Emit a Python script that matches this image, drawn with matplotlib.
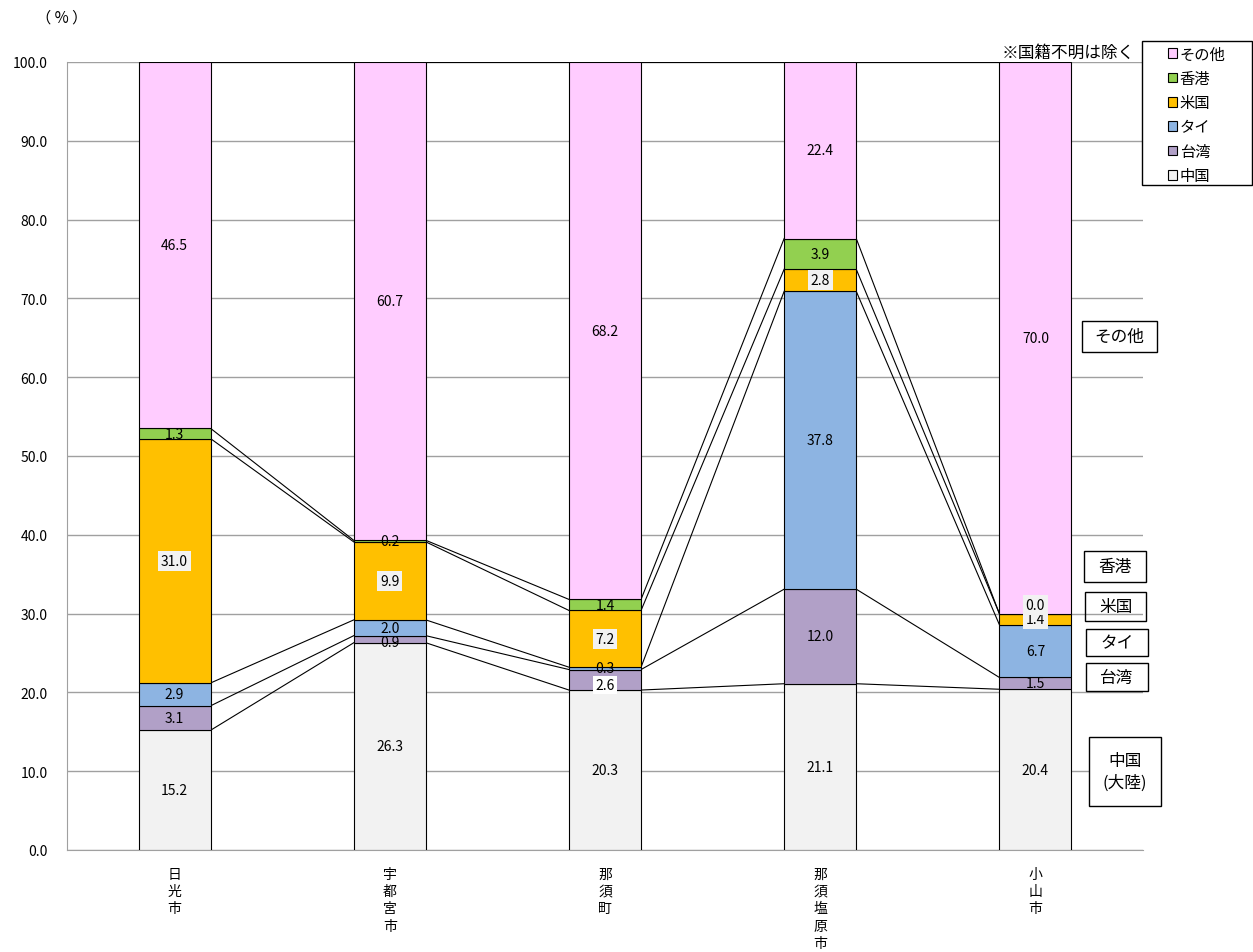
import numpy as np
import matplotlib.pyplot as plt
from matplotlib.patches import Patch, Rectangle

plt.rcParams['font.family'] = ['Noto Sans CJK JP', 'DejaVu Sans']

# data (%)
cities = ["日光市", "宇都宮市", "那須町", "那須塩原市", "小山市"]
series = ["中国", "台湾", "タイ", "米国", "香港", "その他"]
china = [15.2, 26.3, 20.3, 21.1, 20.4]
taiwan = [3.1, 0.9, 2.6, 12.0, 1.5]
thai = [2.9, 2.0, 0.3, 37.8, 6.7]
usa = [31.0, 9.9, 7.2, 2.8, 1.4]
hongkong = [1.3, 0.2, 1.4, 3.9, 0.0]
other = [46.5, 60.7, 68.2, 22.4, 70.0]
colors = ["#F2F2F2", "#B1A0C7", "#8DB4E2", "#FFC000", "#92D050", "#FFCCFF"]

values = np.array([china, taiwan, thai, usa, hongkong, other])

W, H = 1253, 953
fig = plt.figure(figsize=(W / 100, H / 100), dpi=100)
ax = fig.add_axes([67 / W, 1 - 851 / H, (1143 - 67) / W, (851 - 63) / H])

x = np.arange(len(cities))
bw = 0.335
bottoms = np.zeros(len(cities))
for k in range(len(series)):
    ax.bar(x, values[k], bw, bottom=bottoms, color=colors[k],
           edgecolor="black", linewidth=0.8, zorder=3)
    bottoms = bottoms + values[k]

# series lines between neighbouring bars
cum = np.cumsum(values, axis=0)
for k in range(len(series)):
    for i in range(len(cities) - 1):
        ax.plot([i + bw / 2, i + 1 - bw / 2], [cum[k, i], cum[k, i + 1]],
                color="black", lw=0.8, zorder=2)

# data labels
boxed = {(3, 0), (3, 1), (3, 2), (3, 3), (3, 4), (4, 4)}
white_boxed = {(1, 2)}
shift = {(1, 2): -0.7, (4, 4): 1.1, (1, 1): -0.3}
starts = cum - values
for k in range(len(series)):
    for i in range(len(cities)):
        yc = starts[k, i] + values[k, i] / 2 + shift.get((k, i), 0)
        bbox = None
        if (k, i) in boxed:
            bbox = dict(boxstyle="square,pad=0.2", fc="#F2F2F2", ec="none")
        if (k, i) in white_boxed:
            bbox = dict(boxstyle="square,pad=0.15", fc="white", ec="none")
        ax.text(i, yc, f"{values[k, i]:.1f}", ha="center", va="center",
                fontsize=10, bbox=bbox, zorder=6)

ax.set_xlim(-0.5, len(cities) - 0.5)
ax.set_ylim(0, 100)
ax.set_yticks(np.arange(0, 101, 10))
ax.set_yticklabels([f"{v:.1f}" for v in np.arange(0, 101, 10)], fontsize=10)
ax.yaxis.grid(True, color="#A0A0A0", lw=1, zorder=0)
ax.tick_params(axis="y", length=0, pad=14)
ax.tick_params(axis="x", length=0, pad=12)
ax.set_xticks(x)
ax.set_xticklabels(["\n".join(c) for c in cities], fontsize=10,
                   va="top", linespacing=1.3)
for s in ["top", "right"]:
    ax.spines[s].set_visible(False)
ax.spines["left"].set_color("#A0A0A0")
ax.spines["bottom"].set_color("#A0A0A0")

# unit and note
fig.text(62 / W, 1 - 18 / H, "（ % ）", ha="center", va="center", fontsize=11)
fig.text(1135 / W, 1 - 53 / H, "※国籍不明は除く", ha="right", va="center",
         fontsize=12)

# legend (frame drawn separately so it can be wider)
fig.patches.append(Rectangle((1142 / W, 1 - 186 / H), 110 / W, 144 / H,
                             transform=fig.transFigure, fc="white",
                             ec="black", lw=1, zorder=5))
handles = [Patch(facecolor=colors[k], edgecolor="black", lw=0.8,
                 label=series[k]) for k in range(len(series) - 1, -1, -1)]
leg = fig.legend(handles=handles, loc="upper left",
                 bbox_to_anchor=(1163 / W, 1 - 42 / H), fontsize=11,
                 handlelength=0.6, handleheight=0.6, handletextpad=0.2,
                 labelspacing=0.48, borderpad=0.3, borderaxespad=0,
                 frameon=False)
leg.set_zorder(6)

# series name boxes on the right
side = [("その他", 1082, 322, 1157, 353, "white"),
        ("香港", 1084, 552, 1146, 583, "white"),
        ("米国", 1085, 593, 1146, 622, "none"),
        ("タイ", 1086, 630, 1148, 657, "white"),
        ("台湾", 1086, 664, 1148, 692, "white"),
        ("中国\n(大陸)", 1089, 738, 1161, 807, "white")]
for txt, x0, y0, x1, y1, fc in side:
    fig.patches.append(Rectangle((x0 / W, 1 - y1 / H), (x1 - x0) / W,
                                 (y1 - y0) / H, transform=fig.transFigure,
                                 fc=fc, ec="black", lw=1, zorder=5))
    fig.text((x0 + x1) / 2 / W, 1 - (y0 + y1) / 2 / H, txt, ha="center",
             va="center", fontsize=12, linespacing=1.3, zorder=6)

fig.savefig("out.png", dpi=100)
